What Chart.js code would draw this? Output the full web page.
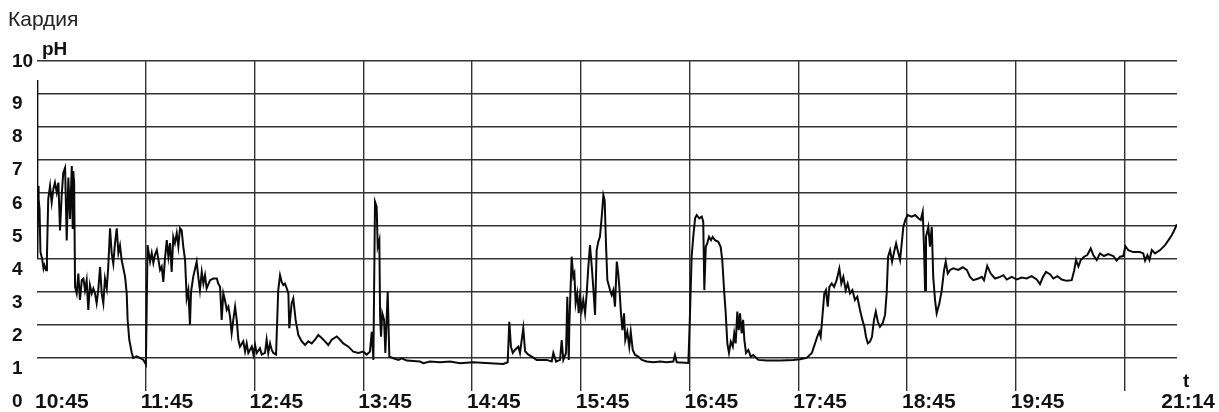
<!DOCTYPE html>
<html>
<head>
<meta charset="utf-8">
<script src="https://cdn.jsdelivr.net/npm/chart.js@4.4.1/dist/chart.umd.min.js"></script>
<style>
  html, body { margin: 0; padding: 0; background: #ffffff; }
  #wrap { width: 1219px; height: 412px; position: relative; }
</style>
</head>
<body>
<div id="wrap"><canvas id="c" width="1219" height="412"></canvas></div>
<script>
// Elapsed time in minutes since 10:45
const timeMinutes = [
  0, 0.2, 0.6, 0.9, 1.4, 1.9, 2.8, 3.6, 4.1, 5.0, 5.5, 6.2, 7.2, 8.1, 9.0, 9.9, 10.9, 11.8, 12.7, 13.6,
  14.5, 15.5, 16.4, 17.3, 18.2, 19.2, 19.7, 20.0, 20.5, 21.0,
  21.9, 22.8, 23.7, 24.7, 25.6, 26.5, 27.4, 28.3, 29.2, 30.2, 31.1, 32.0, 32.9, 33.8, 34.8, 35.7, 36.6,
  37.5, 38.5, 39.3, 40.3, 41.2, 42.1, 43.0, 44.0, 44.9, 45.8, 46.7, 48.6, 49.5, 50.0, 50.9, 52.3, 53.1,
  55.0, 56.8, 58.7, 59.6, 60.1, 61.0,
  62.4, 63.3, 64.2, 65.1, 66.1, 66.9, 67.9, 68.8, 69.7, 70.6, 71.6, 72.5, 73.4, 74.3, 75.2, 76.1, 77.1,
  78.0, 78.9, 79.8, 80.7, 81.7, 82.6, 83.5, 84.4, 85.0, 86.2, 88.1, 89.0, 89.9, 90.9, 91.8, 92.7, 93.6,
  95.5, 97.3, 99.2, 100.0, 101.0, 101.9, 102.8, 103.7, 104.7, 105.6, 106.5, 107.4, 108.3, 109.3, 110.2,
  111.1, 112.0, 113.8, 114.8, 115.7, 116.6, 118.5, 119.4, 120.3, 121.2, 123.0, 124.0, 125.8, 126.7, 127.6,
  128.6, 129.5, 130.4, 131.9, 133.1, 134.1, 135.0, 135.9, 136.8, 137.8, 138.7, 139.2, 140.5, 141.4, 142.7,
  144.2, 146.1, 147.9, 149.7, 151.6, 153.4, 155.2, 157.1, 158.9, 160.7, 162.6, 165.4, 167.2, 169.0, 171.8,
  174.5, 177.3, 180.0, 181.9, 183.7, 184.7, 185.6,
  186.5, 187.4, 188.0, 188.9, 189.3, 189.8, 190.5, 191.5, 192.2, 193.5, 194.4, 196.6, 199.4, 201.2, 204.0,
  211.3, 213.2, 216.8, 222.4, 227.9, 233.4, 240.7, 250.0, 257.3, 259.7, 260.6, 261.5, 262.5, 263.7, 265.6,
  266.5, 268.3, 269.3, 271.1, 273.0, 275.7, 281.2, 284.0, 284.9, 286.4, 288.6, 289.5, 290.4, 291.9, 292.6,
  293.4, 293.7, 295.0, 295.9, 296.5, 297.2, 298.1, 298.9, 299.6, 300.6, 301.4, 302.4, 303.3, 304.2, 305.1,
  306.1, 306.9, 307.9, 308.8, 309.7, 310.6, 311.6, 312.5, 313.2, 314.0, 314.7, 316.2, 317.1, 318.0, 318.9,
  319.9, 320.7, 321.3, 322.2, 323.0, 323.9, 324.6, 325.7, 326.8, 327.6, 328.7, 330.0, 331.8, 333.7, 336.4,
  340.1, 343.8, 347.4, 351.1, 352.0, 353.0, 359.4, 360.3, 361.2, 362.1, 363.1, 364.0, 365.4, 366.8, 367.6,
  368.2, 369.0, 369.8, 370.8, 371.9, 372.8, 374.1, 375.9, 377.2, 378.1, 379.1, 380.0, 380.9, 381.8, 382.8,
  383.9, 384.7, 385.5, 386.4, 387.2, 387.9, 388.8, 389.6, 390.3, 391.2, 392.5, 393.8, 395.2, 398.0, 402.6,
  410.0, 417.3, 421.0, 424.7, 427.5, 429.3, 430.5, 431.6, 432.4, 433.5, 434.4, 435.3, 436.3, 437.2, 438.5,
  439.8, 441.2, 442.7, 443.8, 444.9, 446.2, 447.3, 448.6, 449.9, 451.3, 452.6, 454.1, 455.4, 456.5, 457.4,
  458.4, 459.6, 460.7, 461.8, 462.8, 463.9, 465.1, 466.6, 467.9, 468.8, 469.6, 470.7, 471.8, 472.9, 474.0,
  475.1, 476.2, 477.3, 478.0, 479.1, 480.4, 482.6, 484.5, 486.3, 487.6, 488.7, 489.4, 490.0, 490.5, 491.8,
  492.7, 493.7, 494.5, 495.5, 496.4, 497.9, 499.2, 500.5, 501.4, 502.5, 503.8, 505.6, 508.3, 510.8, 513.0,
  514.8, 516.6, 519.4, 521.3, 522.5, 524.3, 526.2, 528.6, 531.4, 533.2, 535.1, 537.8, 540.6, 543.3, 546.1,
  548.8, 551.6, 553.4, 554.9, 556.7, 558.9, 560.8, 563.0, 565.4, 568.2, 570.9, 572.3, 573.3, 574.6, 575.9,
  577.7, 579.5, 581.4, 582.8, 584.7, 586.5, 588.7, 591.1, 593.9, 595.7, 597.6, 599.4, 600.5, 602.1, 604.9,
  608.6, 610.4, 611.4, 612.7, 613.8, 615.1, 616.9, 619.7, 622.4, 624.3, 626.1, 628.0, 628.9
];

// Measured pH values
const phValues = [
  9.4, 4.0, 6.2, 5.8, 5.5, 4.2, 4.0, 3.7, 3.8, 3.65, 4.1, 5.8, 6.2, 5.7, 6.1, 6.3, 6.0, 6.3, 4.85, 5.9,
  6.6, 6.75, 4.55, 6.45, 5.2, 6.8, 4.9, 6.65, 6.3, 3.15,
  2.95, 3.55, 2.75, 3.35, 3.4, 3.05, 3.35, 2.45, 3.2, 2.95, 3.1, 2.95, 2.65, 3.05, 3.75, 2.95, 2.65,
  3.4, 3.1, 3.75, 4.92, 4.17, 3.85, 4.45, 4.92, 4.17, 4.4, 3.96, 3.45, 2.95, 2.15, 1.55, 1.15, 1.0,
  1.05, 1.0, 0.94, 0.85, 0.8, 4.41,
  3.91, 4.17, 3.87, 4.12, 4.26, 4.0, 3.66, 3.76, 3.3, 4.0, 4.56, 4.06, 4.47, 3.6, 4.66, 4.47, 4.77,
  4.37, 4.92, 4.86, 4.37, 3.96, 2.8, 3.05, 2.0, 3.0, 3.45, 3.91, 3.45, 3.05, 3.6, 3.25, 3.5, 3.1,
  3.35, 3.4, 3.4, 3.25, 3.15, 2.15, 2.95, 2.75, 2.45, 2.55, 2.25, 1.75, 2.15, 2.55, 2.15,
  1.55, 1.34, 1.5, 1.19, 1.44, 1.15, 1.34, 1.1, 1.39, 1.15, 1.29, 1.1, 1.15, 1.55, 1.15,
  1.44, 1.24, 1.15, 1.1, 3.05, 3.5, 3.3, 3.2, 3.25, 3.1, 2.95, 1.9, 2.65, 2.8, 2.15,
  1.69, 1.5, 1.39, 1.5, 1.44, 1.55, 1.69, 1.6, 1.5, 1.39, 1.55, 1.65, 1.55, 1.44, 1.34,
  1.19, 1.15, 1.19, 1.1, 1.19, 1.79, 0.94,
  5.72, 5.57, 4.36, 4.56, 2.25, 1.64, 2.35, 2.15, 1.15, 3.0, 1.04, 0.99, 0.94, 0.99, 0.92,
  0.89, 0.84, 0.89, 0.87, 0.89, 0.84, 0.87, 0.84, 0.82, 0.87, 2.09, 1.34, 1.15, 1.24, 1.34,
  1.15, 1.9, 1.2, 1.1, 1.04, 0.94, 0.94, 0.89, 1.15, 0.89, 0.94, 1.54, 0.94, 1.15, 2.85,
  0.94, 1.94, 4.06, 3.45, 3.55, 2.65, 2.95, 2.35, 2.85, 2.45, 2.75, 2.35, 2.95, 3.75, 4.41,
  3.75, 3.15, 2.3, 4.26, 4.51, 4.66, 5.27, 5.92, 5.77, 4.36, 3.35, 3.05, 2.9, 3.05, 2.55,
  3.91, 3.55, 3.15, 2.35, 1.84, 2.35, 1.54, 1.79, 1.34, 1.79, 1.24, 1.09, 1.04, 0.94, 0.89,
  0.87, 0.89, 0.87, 0.89, 1.09, 0.87, 0.85, 2.35, 4.06, 4.66, 5.22, 5.32, 5.22, 5.27, 5.12,
  3.05, 4.36, 4.46, 4.66, 4.56, 4.66, 4.56, 4.51, 4.36, 3.96, 3.05, 2.35, 1.44, 1.15, 1.49,
  1.34, 1.74, 1.44, 2.4, 1.84, 2.35, 1.74, 2.15, 1.54, 1.15, 1.24, 1.04, 1.09, 0.94, 0.92,
  0.92, 0.94, 0.96, 1.0, 1.15, 1.44, 1.64, 1.79, 1.64, 2.35, 2.95, 3.05, 2.55, 3.15, 3.25,
  3.15, 3.35, 3.7, 3.25, 3.45, 3.05, 3.25, 2.95, 3.05, 2.75, 2.85, 2.45, 2.15, 1.94, 1.64,
  1.44, 1.49, 1.64, 2.15, 2.4, 2.1, 1.94, 2.05, 2.3, 2.95, 4.06, 4.26, 3.91, 4.2, 4.46,
  4.2, 3.96, 4.56, 4.96, 5.17, 5.32, 5.27, 5.32, 5.22, 5.17, 5.42, 4.36, 3.05, 4.66, 4.96,
  4.36, 4.96, 3.45, 2.75, 2.35, 2.65, 3.05, 3.66, 3.91, 3.55, 3.66, 3.71, 3.66, 3.74, 3.66,
  3.45, 3.35, 3.4, 3.45, 3.35, 3.78, 3.55, 3.4, 3.45, 3.5, 3.37, 3.45, 3.37, 3.43, 3.4,
  3.47, 3.37, 3.23, 3.43, 3.6, 3.53, 3.4, 3.47, 3.37, 3.33, 3.35, 3.65, 3.96, 3.76, 3.96,
  4.06, 4.11, 4.31, 4.11, 3.96, 4.16, 4.08, 4.14, 4.08, 3.94, 4.06, 4.08, 4.38, 4.26, 4.2,
  4.2, 4.16, 3.94, 4.11, 3.96, 4.26, 4.16, 4.26, 4.41, 4.56, 4.71, 4.92, 5.04
];

const xGridMinutes = [60, 120, 180, 240, 300, 360, 420, 480, 540, 600];
const xLabelMinutes = [0, 60, 120, 180, 240, 300, 360, 420, 480, 540, 629];
const xLabels = ['10:45', '11:45', '12:45', '13:45', '14:45', '15:45', '16:45', '17:45', '18:45', '19:45', '21:14'];
const yTickValues = [0, 1, 2, 3, 4, 5, 6, 7, 8, 9, 10];

const points = timeMinutes.map((m, i) => ({ x: m, y: phValues[i] }));

const axisText = {
  id: 'axisText',
  afterDraw(chart) {
    const { ctx } = chart;
    const xs = chart.scales.x, ys = chart.scales.y;
    ctx.save();
    ctx.fillStyle = '#111';
    ctx.textBaseline = 'alphabetic';
    ctx.textAlign = 'left';
    ctx.font = 'bold 19px "Liberation Sans", Arial, sans-serif';
    yTickValues.forEach(v => {
      const py = ys.getPixelForValue(v);
      ctx.fillText(String(v), 12, v === 10 ? py + 7 : py + 16);
    });
    ctx.fillText('pH', xs.left + 5, ys.top - 5);
    ctx.fillText('t', xs.right + 6, ys.bottom - 4);
    ctx.font = 'bold 21px "Liberation Sans", Arial, sans-serif';
    xLabelMinutes.forEach((m, i) => {
      const px = xs.getPixelForValue(m);
      if (i === xLabelMinutes.length - 1) {
        ctx.textAlign = 'right';
        ctx.fillText(xLabels[i], chart.width - 4, ys.bottom + 17);
      } else {
        ctx.textAlign = 'left';
        ctx.fillText(xLabels[i], Math.max(px - 5, xs.left - 2), ys.bottom + 17);
      }
    });
    ctx.restore();
  }
};

new Chart(document.getElementById('c'), {
  type: 'line',
  data: {
    datasets: [{
      label: 'pH',
      data: points,
      borderColor: '#0a0a0a',
      borderWidth: 2,
      pointRadius: 0,
      tension: 0,
      fill: false
    }]
  },
  options: {
    responsive: false,
    animation: false,
    devicePixelRatio: 1,
    layout: { padding: { left: 8, right: 42, top: 0, bottom: 0 } },
    plugins: {
      legend: { display: false },
      tooltip: { enabled: false },
      title: {
        display: true,
        text: 'Кардия',
        align: 'start',
        color: '#222',
        font: { family: '"Liberation Sans", Arial, sans-serif', size: 21, weight: 'normal' },
        padding: { top: 8, bottom: 27 }
      }
    },
    scales: {
      x: {
        type: 'linear',
        min: 0,
        max: 629,
        afterBuildTicks: s => { s.ticks = xGridMinutes.map(v => ({ value: v })); },
        afterFit: s => { s.height = 21; },
        ticks: { display: false },
        border: { display: false },
        grid: { color: '#333', lineWidth: 1.4, drawTicks: false }
      },
      y: {
        min: 0,
        max: 10,
        afterBuildTicks: s => { s.ticks = yTickValues.map(v => ({ value: v })); },
        afterFit: s => { s.width = 29; },
        ticks: { display: false },
        border: { display: false },
        grid: {
          color: c => (c.tick && c.tick.value === 0) ? 'rgba(0,0,0,0)' : '#333',
          lineWidth: 1.4,
          drawTicks: false
        }
      }
    }
  },
  plugins: [axisText]
});
</script>
</body>
</html>
